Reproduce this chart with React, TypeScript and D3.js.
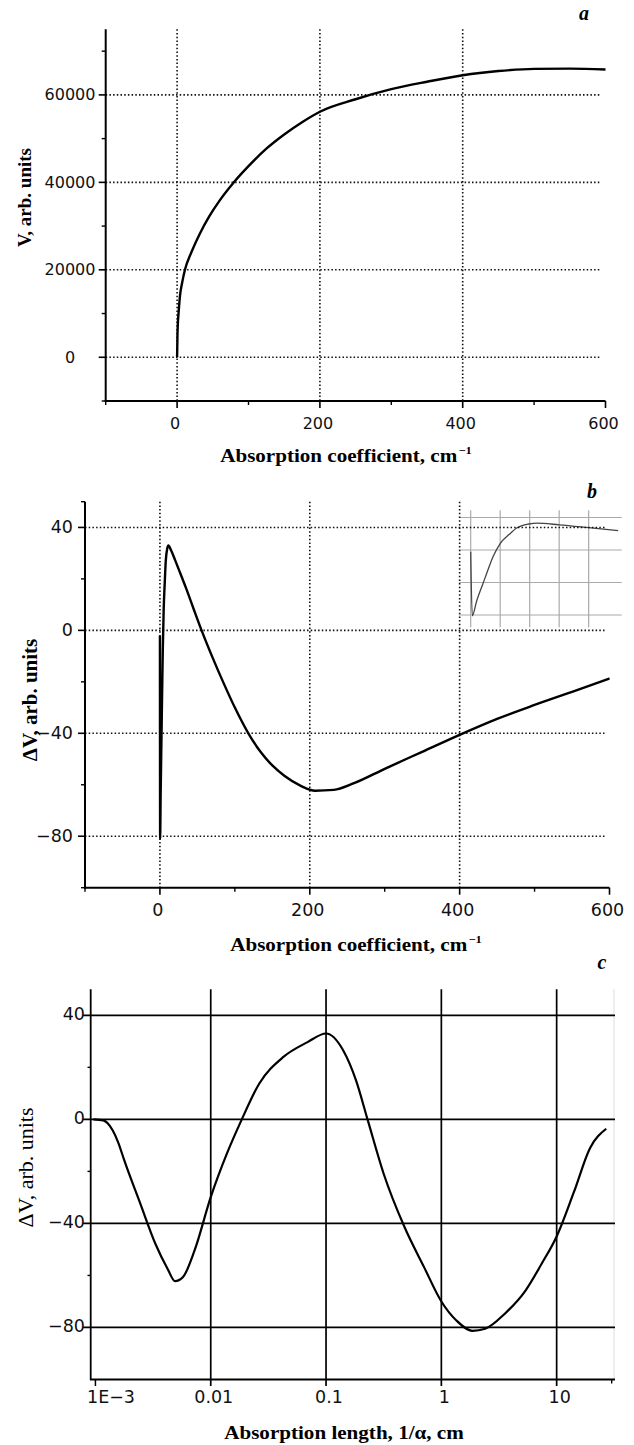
import React from 'react';
import * as d3 from 'd3';

// ---- panel a : V vs absorption coefficient ----
const coefA = [0, 0.5, 1, 2, 4, 7, 11, 20, 32, 45, 59, 79, 100, 125, 150, 175, 200, 250, 300, 350, 400, 450, 500, 550, 600];
const voltA = [0, 5000, 7500, 10000, 14000, 17000, 20000, 24000, 28320, 32220, 35720, 39920, 43700, 47700, 50950, 53750, 56150, 59000, 61300, 63000, 64500, 65450, 65950, 66000, 65800];
const ticksAy = [0, 20000, 40000, 60000];
const minorAy = [-10000, 10000, 30000, 50000, 70000];

// ---- panel b : dV vs absorption coefficient (inset = zoom of the spike) ----
const coefB = [0, 0.27, 1, 2.1, 3, 3.8, 5, 6.5, 7.8, 9.9, 11.2, 15, 20, 25, 35, 45, 55.6, 70, 85, 100, 118, 135, 150, 166, 188, 207, 232, 259, 300, 350, 400, 450, 500, 551, 600];
const dvB = [-2, -81, -63, -41, -23, -8, 8, 19, 27, 32, 33, 31, 27.5, 23.8, 16.3, 8.3, 0, -10.4, -20.5, -30, -40, -47.5, -52.5, -56.5, -60.4, -62.3, -62, -59.4, -53.8, -47.2, -40.6, -34.4, -29, -23.8, -18.7];
const ticksBy = [40, 0, -40, -80];
const minorBy = [50, 20, -20, -60, -100];
const insetGridX = [0, 5, 10, 15, 20];

// shared x ticks for a and b
const ticksCoef = [0, 200, 400, 600];
const minorCoef = [-100, 100, 300, 500];
const gridCoef = [0, 200, 400];

// ---- panel c : dV vs absorption length (log) ----
const lenC = [0.00096, 0.00117, 0.00141, 0.00158, 0.00178, 0.00245, 0.00331, 0.00422, 0.0049, 0.00575, 0.00724, 0.01, 0.0138, 0.0186, 0.0263, 0.0427, 0.0692, 0.1, 0.141, 0.182, 0.229, 0.316, 0.479, 0.708, 1, 1.35, 1.86, 2.4, 3.55, 5.37, 7.41, 10, 14.1, 19.5, 26.9];
const dvC = [0, -0.4, -4.2, -9, -15.8, -32.4, -47.8, -57.4, -62.2, -60.6, -50.4, -29.9, -13.2, 0, 13.7, 24, 29.7, 33, 26.5, 15, 0, -20.9, -41.4, -56.8, -70, -77.3, -81.3, -80.5, -74.7, -65.8, -55.5, -45, -28, -11, -3.6];
const ticksCx = [0.001, 0.01, 0.1, 1, 10];
const labelsCx = ['1E\u22123', '0.01', '0.1', '1', '10'];
const ticksCy = [40, 0, -40, -80];
const minorCy = [20, -20, -60];

const SANS = 'DejaVu Sans';
const SERIF = 'Liberation Serif';
const dots = {stroke: '#111', strokeWidth: 1.6, strokeDasharray: '1.5 2.2'};
const minus = (v: number) => String(v).replace('-', '\u2212');

const xA = d3.scaleLinear().domain([-100, 600]).range([105.7, 605.5]);
const yA = d3.scaleLinear().domain([-10000, 75000]).range([401, 29.3]);
const xB = d3.scaleLinear().domain([-100, 600]).range([85, 609.5]);
const yB = d3.scaleLinear().domain([-100, 50]).range([887.7, 501.7]);
const xI = d3.scaleLinear().domain([-2, 25.6]).range([458.9, 621.7]);
const yI = d3.scaleLinear().domain([-95, 49]).range([627.2, 510.2]);
const xC = d3.scaleLog().domain([10 ** -3.041, 10 ** 1.506]).range([90.7, 615]);
const yC = d3.scaleLinear().domain([-100, 50]).range([1379.5, 989.3]);

function pathOf(xs: number[], ys: number[], sx: any, sy: any) {
    const pts = xs.map((x, i) => [x, ys[i]] as [number, number]);
    return d3.line<[number, number]>().x(d => sx(d[0])).y(d => sy(d[1])).curve(d3.curveMonotoneX)(pts) || '';
}

//x-axis title with the cm^-1 superscript, stretched like the scanned figure
function CoefTitle({x, y}: {x: number, y: number}) {
    return (
        <g transform={`translate(${x},${y}) scale(1.14,1)`}>
            <text textAnchor="middle" fontFamily={SERIF} fontWeight="bold" fontSize={18.5}>
                Absorption coefficient, cm<tspan dx={1} dy={-8} fontSize={11}>{'\u22121'}</tspan>
            </text>
        </g>
    );
}

//dotted-grid panel used for a and b
function DottedPanel({sx, sy, yMajor, yMinor, fontSize, labX, labAnchor}: any) {
    const [x0, x1] = sx.range();
    const [yb, yt] = sy.range();
    const gridEnd = x1 - 4;
    return (
        <g>
            {gridCoef.map(v => <line key={'gx' + v} x1={sx(v)} x2={sx(v)} y1={yt} y2={yb} {...dots} />)}
            {yMajor.map((v: number) => <line key={'gy' + v} x1={x0} x2={gridEnd} y1={sy(v)} y2={sy(v)} {...dots} />)}
            <line x1={x0} x2={x0} y1={yt} y2={yb + 1} stroke="#000" strokeWidth={2} />
            <line x1={x0 - 1} x2={x1} y1={yb} y2={yb} stroke="#000" strokeWidth={2} />
            {yMajor.map((v: number) => <line key={'ty' + v} x1={x0 - 7} x2={x0} y1={sy(v)} y2={sy(v)} stroke="#000" strokeWidth={1.6} />)}
            {yMinor.map((v: number) => <line key={'my' + v} x1={x0 - 4} x2={x0} y1={sy(v)} y2={sy(v)} stroke="#000" strokeWidth={1.4} />)}
            {ticksCoef.map(v => <line key={'tx' + v} x1={sx(v)} x2={sx(v)} y1={yb} y2={yb + 7} stroke="#000" strokeWidth={1.6} />)}
            {minorCoef.map(v => <line key={'mx' + v} x1={sx(v)} x2={sx(v)} y1={yb} y2={yb + 4} stroke="#000" strokeWidth={1.4} />)}
            {yMajor.map((v: number) => (
                <text key={'ly' + v} x={labX} y={sy(v)} textAnchor={labAnchor} dominantBaseline="central"
                      fontFamily={SANS} fontSize={fontSize} fill="#111">{minus(v)}</text>
            ))}
            {ticksCoef.map(v => (
                <text key={'lx' + v} x={sx(v) - 2} y={yb + 22} textAnchor="middle" dominantBaseline="central"
                      fontFamily={SANS} fontSize={fontSize} fill="#111">{v}</text>
            ))}
        </g>
    );
}

export default function App() {
    const insetData = coefB.map((c, i) => [c, dvB[i]]).filter(d => d[0] <= 25.3);
    return (
        <svg width={634} height={1445} style={{position: 'absolute', left: 0, top: 0, background: '#fff'}}>
            <rect width={634} height={1445} fill="#fff" />

            {/* ---------- a ---------- */}
            <DottedPanel sx={xA} sy={yA} yMajor={ticksAy} yMinor={minorAy} fontSize={16} labX={70} labAnchor="middle" />
            <path d={pathOf(coefA, voltA, xA, yA)} fill="none" stroke="#000" strokeWidth={2.4} />
            <text transform="translate(24,197.5) rotate(-90)" textAnchor="middle" dominantBaseline="central"
                  fontFamily={SERIF} fontWeight="bold" fontSize={19}>V, arb. units</text>
            <CoefTitle x={346} y={462} />
            <text x={584} y={20} textAnchor="middle" fontFamily={SERIF} fontWeight="bold" fontStyle="italic" fontSize={20}>a</text>

            {/* ---------- b ---------- */}
            {/* inset: spike near zero, light grid */}
            {insetGridX.map(v => <line key={'ix' + v} x1={xI(v)} x2={xI(v)} y1={yI.range()[1]} y2={yI.range()[0]} stroke="#aaa" strokeWidth={1.2} />)}
            {ticksBy.map(v => <line key={'iy' + v} x1={xI.range()[0]} x2={xI.range()[1]} y1={yI(v)} y2={yI(v)} stroke="#aaa" strokeWidth={1.2} />)}
            <path d={pathOf(insetData.map(d => d[0]), insetData.map(d => d[1]), xI, yI)} fill="none" stroke="#444" strokeWidth={1.3} />

            <DottedPanel sx={xB} sy={yB} yMajor={ticksBy} yMinor={minorBy} fontSize={17.5} labX={73} labAnchor="end" />
            <path d={pathOf(coefB, dvB, xB, yB)} fill="none" stroke="#000" strokeWidth={2.4} />
            <text transform="translate(30,700) rotate(-90)" textAnchor="middle" dominantBaseline="central"
                  fontFamily={SERIF} fontWeight="bold" fontSize={21}>{'\u0394V, arb. units'}</text>
            <CoefTitle x={356} y={951} />
            <text x={592} y={498} textAnchor="middle" fontFamily={SERIF} fontWeight="bold" fontStyle="italic" fontSize={20}>b</text>

            {/* ---------- c ---------- */}
            <line x1={614} x2={614} y1={989.3} y2={1379.5} stroke="#ddd" strokeWidth={1} />
            {ticksCx.slice(1).map(v => <line key={'cgx' + v} x1={xC(v)} x2={xC(v)} y1={989.3} y2={1386} stroke="#000" strokeWidth={1.7} />)}
            {ticksCy.map(v => <line key={'cgy' + v} x1={83} x2={615} y1={yC(v)} y2={yC(v)} stroke="#000" strokeWidth={1.7} />)}
            <line x1={90.7} x2={90.7} y1={989.3} y2={1380} stroke="#000" strokeWidth={1.8} />
            <line x1={90} x2={615} y1={1379.5} y2={1379.5} stroke="#000" strokeWidth={1.8} />
            <line x1={xC(0.001)} x2={xC(0.001)} y1={1379.5} y2={1386} stroke="#000" strokeWidth={1.5} />
            <line x1={xC(30)} x2={xC(30)} y1={1379.5} y2={1383.5} stroke="#000" strokeWidth={1.4} />
            {minorCy.map(v => <line key={'cmy' + v} x1={87.5} x2={90.7} y1={yC(v)} y2={yC(v)} stroke="#000" strokeWidth={1.4} />)}
            <path d={pathOf(lenC, dvC, xC, yC)} fill="none" stroke="#000" strokeWidth={2.2} />
            {ticksCy.map(v => (
                <text key={'cly' + v} x={85} y={yC(v) - 1.5} textAnchor="end" dominantBaseline="central"
                      fontFamily={SANS} fontSize={17.5} fill="#111">{minus(v)}</text>
            ))}
            {ticksCx.map((v, i) => (
                <text key={'clx' + v} x={i === 0 ? 87 : xC(v) + 3} y={1397} textAnchor={i === 0 ? 'start' : 'middle'}
                      dominantBaseline="central" fontFamily={SANS} fontSize={17.5} fill="#111">{labelsCx[i]}</text>
            ))}
            <text transform="translate(25,1167.5) rotate(-90)" textAnchor="middle" dominantBaseline="central"
                  fontFamily={SERIF} fontSize={22}>{'\u0394V, arb. units'}</text>
            <g transform="translate(344,1439) scale(1.14,1)">
                <text textAnchor="middle" fontFamily={SERIF} fontWeight="bold" fontSize={18.5}>{'Absorption length, 1/\u03b1, cm'}</text>
            </g>
            <text x={602} y={969} textAnchor="middle" fontFamily={SERIF} fontWeight="bold" fontStyle="italic" fontSize={20}>c</text>
        </svg>
    );
}
